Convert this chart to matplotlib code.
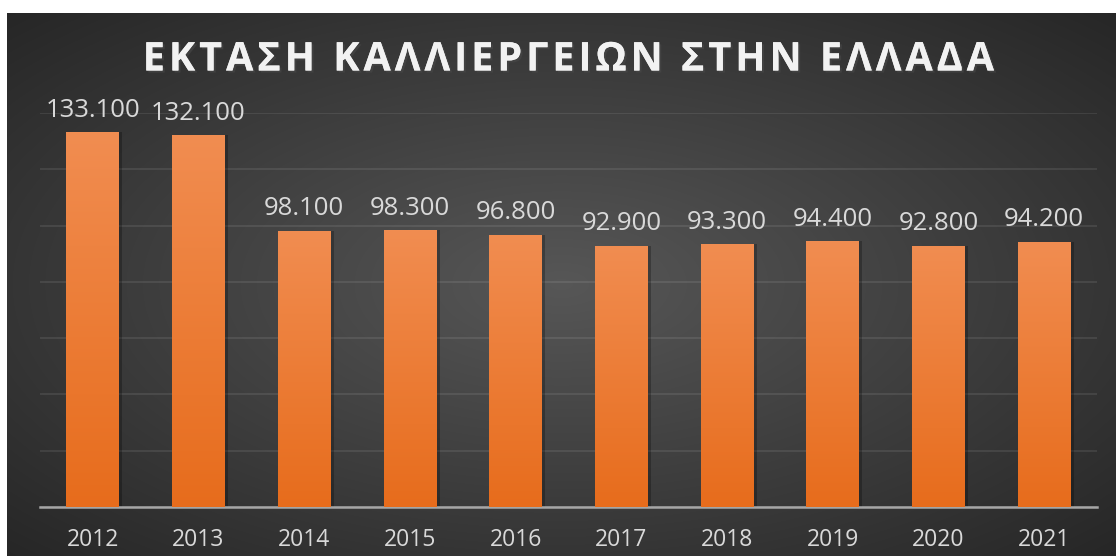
import matplotlib
matplotlib.use('Agg')

import matplotlib.pyplot as plt
import matplotlib.patheffects as pe
import numpy as np

years = ['2012', '2013', '2014', '2015', '2016', '2017', '2018', '2019', '2020', '2021']
area = [133100, 132100, 98100, 98300, 96800, 92900, 93300, 94400, 92800, 94200]
title = 'ΕΚΤΑΣΗ ΚΑΛΛΙΕΡΓΕΙΩΝ ΣΤΗΝ ΕΛΛΑΔΑ'

W, H = 1116, 556
fig = plt.figure(figsize=(W / 100, H / 100), dpi=100, facecolor='white')

# dark panel with radial gradient
bg = fig.add_axes([7 / W, 0, 1 - 7 / W, 1 - 13 / H])
bg.set_axis_off()
yy, xx = np.mgrid[0:1:300j, 0:1:600j]
r = np.sqrt(((xx - 0.5) / 0.75) ** 2 + ((yy - 0.5) / 0.75) ** 2)
shade = np.clip(0.34 - 0.2 * r, 0.14, 0.34)
bg.imshow(np.dstack([shade] * 3), aspect='auto', extent=[0, 1, 0, 1], interpolation='bicubic')

ax = fig.add_axes([40 / W, (H - 507) / H, 1057 / W, 394 / H])
ax.set_facecolor('none')
x = np.arange(len(years))
ax.set_xlim(-0.5, len(years) - 0.5)
ax.set_ylim(0, 140000)
ax.set_yticks(np.arange(0, 140001, 20000))
ax.yaxis.grid(True, color='white', alpha=0.1, linewidth=1.2)
ax.set_axisbelow(True)
for s in ['top', 'right', 'left']:
    ax.spines[s].set_visible(False)
ax.spines['bottom'].set_color('#a6a6a6')
ax.spines['bottom'].set_linewidth(1.8)
ax.tick_params(axis='y', left=False, labelleft=False)
ax.tick_params(axis='x', length=0, pad=15, labelsize=16.5, labelcolor='#d9d9d9')
ax.set_xticks(x)
ax.set_xticklabels(years, family='Open Sans')

# bar shadows
ax.bar(x + 0.02, area, width=0.52, color='black', alpha=0.25, zorder=2)
bars = ax.bar(x, area, width=0.5, color='#ec7b32', zorder=3)

grad = np.linspace(0, 1, 256).reshape(-1, 1)
top = np.array([0.945, 0.553, 0.318])
bot = np.array([0.906, 0.424, 0.110])
img = grad[..., None] * top + (1 - grad[..., None]) * bot
for b in bars:
    im = ax.imshow(img, extent=[b.get_x(), b.get_x() + b.get_width(), 0, b.get_height()],
                   aspect='auto', origin='lower', zorder=4)
    im.set_clip_path(b)

for xi, v in zip(x, area):
    ax.annotate(f'{v:,}'.replace(',', '.'), (xi, v), xytext=(0, 7), textcoords='offset points',
                ha='center', va='bottom', fontsize=18.5, color='#d9d9d9', family='Open Sans')

fig.text(569 / W, 1 - 60 / H, '\u200a'.join(title), ha='center', va='center', fontsize=28.5,
         fontweight='bold', color='#f2f2f2', family=['Open Sans', 'DejaVu Sans'],
         path_effects=[pe.withSimplePatchShadow(offset=(1.5, -1.5), alpha=0.6), pe.Normal()])

fig.savefig('out.png', dpi=100, facecolor='white')
